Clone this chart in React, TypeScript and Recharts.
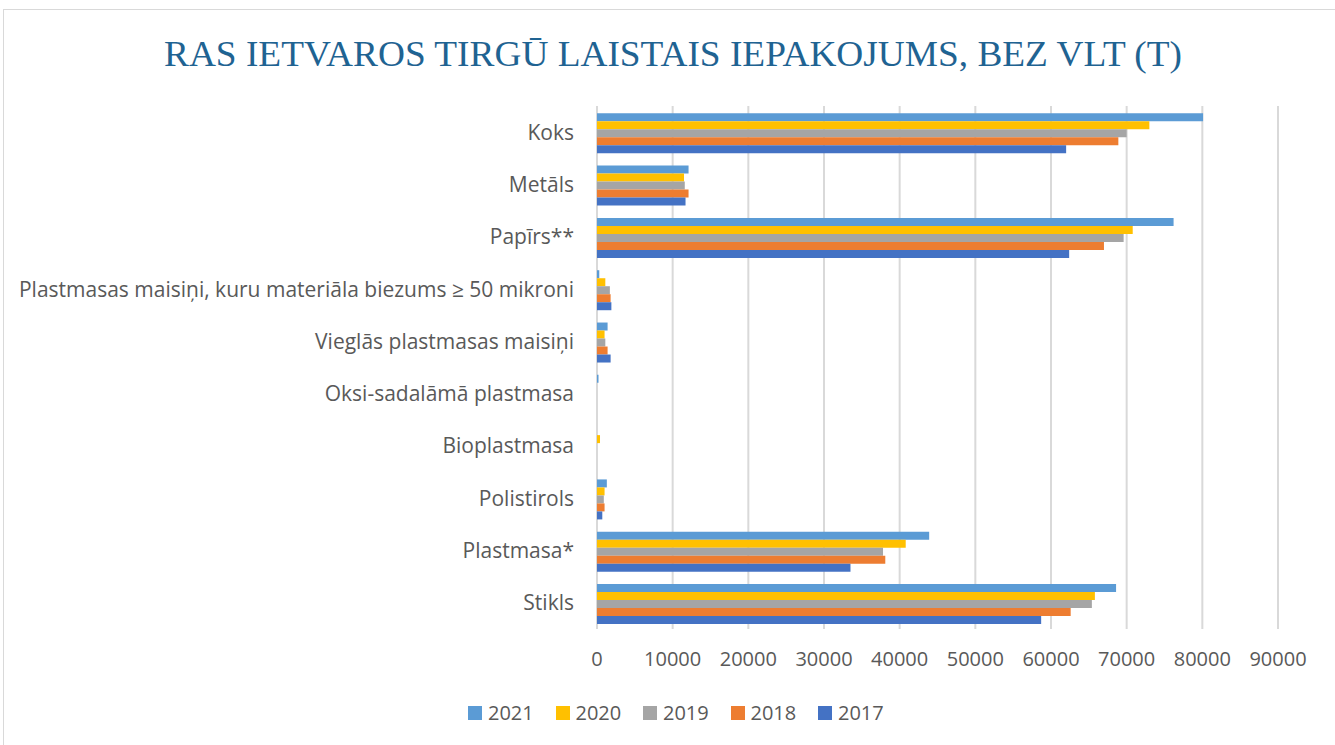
import { Bar, BarChart, CartesianGrid, Legend, XAxis, YAxis } from 'recharts';

const CATEGORIES = [
  'Koks',
  'Metāls',
  'Papīrs**',
  'Plastmasas maisiņi, kuru materiāla biezums ≥ 50 mikroni',
  'Vieglās plastmasas maisiņi',
  'Oksi-sadalāmā plastmasa',
  'Bioplastmasa',
  'Polistirols',
  'Plastmasa*',
  'Stikls',
];

const Y2021 = [80100, 12100, 76200, 300, 1400, 200, 0, 1300, 43900, 68600];
const Y2020 = [73000, 11500, 70800, 1100, 1000, 0, 400, 1000, 40800, 65800];
const Y2019 = [70000, 11600, 69600, 1700, 1100, 0, 0, 900, 37800, 65400];
const Y2018 = [68900, 12100, 67000, 1800, 1400, 0, 0, 1000, 38100, 62600];
const Y2017 = [62000, 11700, 62400, 1900, 1800, 0, 0, 700, 33500, 58700];

const X_TICKS = [0, 10000, 20000, 30000, 40000, 50000, 60000, 70000, 80000, 90000];

const SERIES = [
  { key: 'y2021', name: '2021', color: '#5B9BD5' },
  { key: 'y2020', name: '2020', color: '#FFC000' },
  { key: 'y2019', name: '2019', color: '#A5A5A5' },
  { key: 'y2018', name: '2018', color: '#ED7D31' },
  { key: 'y2017', name: '2017', color: '#4472C4' },
];

const data = CATEGORIES.map((name, i) => ({
  name,
  y2021: Y2021[i],
  y2020: Y2020[i],
  y2019: Y2019[i],
  y2018: Y2018[i],
  y2017: Y2017[i],
}));

const FONT = '"Open Sans", Lato, sans-serif';

function LegendRow() {
  return (
    <div style={{ display: 'flex', paddingLeft: 468, fontFamily: FONT, fontSize: 20, color: '#595959' }}>
      {SERIES.map(s => (
        <div key={s.key} style={{ display: 'flex', alignItems: 'center', width: 87.5 }}>
          <span style={{ display: 'inline-block', width: 14, height: 14, background: s.color, marginRight: 6 }} />
          <span>{s.name}</span>
        </div>
      ))}
    </div>
  );
}

export default function App() {
  return (
    <div style={{ position: 'absolute', left: 0, top: 0, width: 1335, height: 745, background: '#fff', overflow: 'hidden' }}>
      <div
        style={{
          position: 'absolute',
          left: 3,
          top: 9,
          width: 1340,
          height: 745,
          border: '1px solid #d9d9d9',
          boxSizing: 'border-box',
        }}
      />
      <svg style={{ position: 'absolute', left: 0, top: 0 }} width={1335} height={100}>
        <text
          x={164}
          y={66}
          textLength={1018}
          lengthAdjust="spacingAndGlyphs"
          fontFamily='"Liberation Serif", "Times New Roman", serif'
          fontSize={35}
          fill="#1F6392"
        >
          RAS IETVAROS TIRGŪ LAISTAIS IEPAKOJUMS, BEZ VLT (T)
        </text>
      </svg>
      <div style={{ position: 'absolute', left: 0, top: 0 }}>
        <BarChart
          width={1335}
          height={745}
          data={data}
          layout="vertical"
          margin={{ top: 106, right: 57, bottom: 86, left: 0 }}
          barCategoryGap="14%"
          barGap={0}
        >
          <CartesianGrid horizontal={false} stroke="#d9d9d9" strokeWidth={2} />
          <XAxis
            type="number"
            domain={[0, 90000]}
            ticks={X_TICKS}
            axisLine={false}
            tickLine={false}
            tickSize={0}
            tickMargin={23}
            height={30}
            tick={{ fontSize: 20, fill: '#595959', fontFamily: FONT }}
            interval={0}
          />
          <YAxis
            type="category"
            dataKey="name"
            width={597}
            axisLine={false}
            tickLine={false}
            tickSize={0}
            tickMargin={23}
            interval={0}
            tick={{ fontSize: 21, fill: '#595959', fontFamily: FONT }}
          />
          <Legend
            verticalAlign="middle"
            align="center"
            wrapperStyle={{ top: 699, left: 0, width: 1335 }}
            content={() => <LegendRow />}
          />
          {SERIES.map(s => (
            <Bar key={s.key} dataKey={s.key} name={s.name} fill={s.color} isAnimationActive={false} />
          ))}
        </BarChart>
      </div>
    </div>
  );
}
